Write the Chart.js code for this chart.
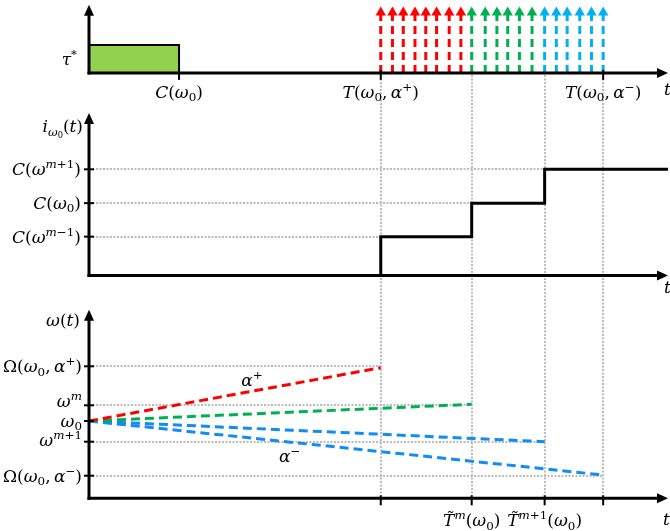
<!DOCTYPE html>
<html>
<head>
<meta charset="utf-8">
<script src="https://cdn.jsdelivr.net/npm/chart.js@4/dist/chart.umd.min.js"></script>
<style>
  html, body { margin: 0; padding: 0; background: #fff; }
  canvas { display: block; }
</style>
</head>
<body>
<canvas id="timing" width="670" height="531"></canvas>
<script>
// shared time axis
const tEnd = 6.43;
const tC0 = 1.0, tPlus = 3.24, tM = 4.25, tM1 = 5.06, tMinus = 5.71;
const guideTimes = [tPlus, tM, tM1, tMinus];

// top panel: sleep window and wake-up pulses
const tauStar = 1;
const pulseTop = 2.15;
const redPulses = [3.24, 3.37, 3.49, 3.62, 3.74, 3.86, 4.00, 4.13];
const greenPulses = [4.25, 4.40, 4.53, 4.65, 4.78, 4.92];
const bluePulses = [5.06, 5.19, 5.31, 5.45, 5.58, 5.71];
const topTickTimes = [tC0, tPlus, tMinus];
const topTickLabels = ['C(ω_{0})', 'T(ω_{0},\u2009α^{+})', 'T(ω_{0},\u2009α^{−})'];

// middle panel: i_w0(t) staircase
const midLevels = [1.16, 2.16, 3.17];
const midLabels = ['C(ω^{m−1})', 'C(ω_{0})', 'C(ω^{m+1})'];
const midGuideEnds = [tPlus, tM, tM1];
const stepTimes = [0, tPlus, tM, tM1, tEnd];
const stepValues = [0, 1.16, 2.16, 3.17, 3.17];

// bottom panel: w(t) ramps
const w0 = 7.73;
const botLevels = [13.2, 9.3, 7.73, 5.66, 2.26];
const botLabels = ['Ω(ω_{0},\u2009α^{+})', 'ω^{m}', 'ω_{0}', 'ω^{m+1}', 'Ω(ω_{0},\u2009α^{−})'];
const botGuideEnds = [tPlus, tM, null, tM1, tMinus];
const rampEnds = [tPlus, tM, tM1, tMinus];
const rampValues = [13.06, 9.4, 5.66, 2.33];
const botTickTimes = [tPlus, tM, tM1, tMinus];
const botTickLabels = ['', 'T\u0303^{m}(ω_{0})', 'T\u0303^{m+1}(ω_{0})', ''];
const alphaNotes = [
  { text: 'α^{+}', x: 1.81, y: 11.8 },
  { text: 'α^{−}', x: 2.23, y: 4.25 }
];

const RED = '#ff0000', GREEN = '#00b050', CYAN = '#00b0f0', BLUE = '#118cf5';
const GUIDE = '#bcbcbc';
const FONT = '"DejaVu Serif", serif';
const FS = 17;

function pulseData(times) {
  const out = [];
  times.forEach(t => {
    out.push({ x: t, y: 0 }, { x: t, y: pulseTop }, { x: t, y: null });
  });
  return out;
}

function pulseSet(times, color) {
  return {
    yAxisID: 'yTop',
    data: pulseData(times),
    borderColor: color,
    borderWidth: 3,
    borderDash: [8, 5],
    pointStyle: 'triangle',
    pointRadius: c => (c.raw && c.raw.y === pulseTop ? 6 : 0),
    pointBackgroundColor: color,
    pointBorderWidth: 0,
    spanGaps: false
  };
}

function rampSet(i, color) {
  return {
    yAxisID: 'yBot',
    data: [{ x: 0, y: w0 }, { x: rampEnds[i], y: rampValues[i] }],
    borderColor: color,
    borderWidth: 3,
    borderDash: [9, 5],
    pointRadius: 0
  };
}

// tiny renderer for labels with ^{..} and _{..}
function richRuns(str, size) {
  const runs = [];
  const st = [{ s: 1, d: 0 }];
  for (let i = 0; i < str.length; i++) {
    const c = str[i];
    const top = st[st.length - 1];
    if ((c === '^' || c === '_') && str[i + 1] === '{') {
      st.push(c === '^'
        ? { s: top.s * 0.7, d: top.d - top.s * size * 0.4 }
        : { s: top.s * 0.7, d: top.d + top.s * size * 0.2 });
      i++;
      continue;
    }
    if (c === '}') { st.pop(); continue; }
    if (/[\u0300-\u036f]/.test(c) && runs.length) { runs[runs.length - 1].t += c; continue; }
    runs.push({ t: c, s: top.s, d: top.d, it: /[A-Za-zα-ωτ]/.test(c) });
  }
  return runs;
}

function drawRich(ctx, str, x, y, align) {
  const runs = richRuns(str, FS);
  let w = 0;
  runs.forEach(r => {
    ctx.font = (r.it ? 'italic ' : '') + (FS * r.s).toFixed(1) + 'px ' + FONT;
    r.w = ctx.measureText(r.t).width;
    w += r.w;
  });
  let cx = align === 'right' ? x - w : align === 'center' ? x - w / 2 : x;
  ctx.textAlign = 'left';
  ctx.textBaseline = 'alphabetic';
  ctx.fillStyle = '#000';
  runs.forEach(r => {
    ctx.font = (r.it ? 'italic ' : '') + (FS * r.s).toFixed(1) + 'px ' + FONT;
    ctx.fillText(r.t, cx, y + FS * 0.35 + r.d);
    cx += r.w;
  });
}

function line(ctx, x1, y1, x2, y2) {
  ctx.beginPath();
  ctx.moveTo(x1, y1);
  ctx.lineTo(x2, y2);
  ctx.stroke();
}

function axes(ctx, x0, y0, yTip, xTip) {
  ctx.strokeStyle = '#000';
  ctx.fillStyle = '#000';
  ctx.lineWidth = 3;
  ctx.setLineDash([]);
  line(ctx, x0, y0 + 1.5, x0, yTip + 8);
  line(ctx, x0 - 1.5, y0, xTip - 8, y0);
  ctx.beginPath();
  ctx.moveTo(x0, yTip);
  ctx.lineTo(x0 - 5, yTip + 11);
  ctx.lineTo(x0 + 5, yTip + 11);
  ctx.closePath();
  ctx.fill();
  ctx.beginPath();
  ctx.moveTo(xTip, y0);
  ctx.lineTo(xTip - 11, y0 - 5);
  ctx.lineTo(xTip - 11, y0 + 5);
  ctx.closePath();
  ctx.fill();
}

const sketch = {
  id: 'sketch',
  beforeDatasetsDraw(chart) {
    const { ctx, scales: { x, yTop, yMid, yBot } } = chart;
    const px = v => Math.round(x.getPixelForValue(v));
    ctx.save();
    ctx.strokeStyle = GUIDE;
    ctx.lineWidth = 2;
    ctx.setLineDash([2, 1.5]);
    guideTimes.forEach(t => {
      line(ctx, px(t), yTop.getPixelForValue(0) + 2, px(t), yBot.getPixelForValue(0));
    });
    midLevels.forEach((v, i) => {
      const py = Math.round(yMid.getPixelForValue(v));
      line(ctx, px(0), py, px(midGuideEnds[i]), py);
    });
    botLevels.forEach((v, i) => {
      if (botGuideEnds[i] === null) return;
      const py = Math.round(yBot.getPixelForValue(v));
      line(ctx, px(0), py, px(botGuideEnds[i]), py);
    });
    ctx.restore();
  },
  afterDatasetsDraw(chart) {
    const { ctx, scales: { x, yTop, yMid, yBot } } = chart;
    const x0 = x.getPixelForValue(0);
    const xTip = x.getPixelForValue(tEnd);
    ctx.save();

    // top panel
    const yt0 = yTop.getPixelForValue(0);
    axes(ctx, x0, yt0, yTop.getPixelForValue(2.43), xTip);
    ctx.lineWidth = 2;
    topTickTimes.forEach((t, i) => {
      const p = x.getPixelForValue(t);
      line(ctx, p, yt0 - 3, p, yt0 + 7);
      drawRich(ctx, topTickLabels[i], p, yt0 + 19, 'center');
    });
    drawRich(ctx, 'τ^{*}', x0 - 12, yTop.getPixelForValue(tauStar / 2), 'right');
    drawRich(ctx, 't', xTip - 4, yt0 + 16, 'left');

    // middle panel
    const ym0 = yMid.getPixelForValue(0);
    axes(ctx, x0, ym0, yMid.getPixelForValue(4.85), xTip);
    ctx.lineWidth = 2;
    midLevels.forEach((v, i) => {
      const py = yMid.getPixelForValue(v);
      line(ctx, x0 - 5, py, x0 + 5, py);
      drawRich(ctx, midLabels[i], x0 - 8, py, 'right');
    });
    drawRich(ctx, 'i_{ω_{0}}(t)', x0 - 6, yMid.getPixelForValue(4.45), 'right');
    drawRich(ctx, 't', xTip - 4, ym0 + 12, 'left');

    // bottom panel
    const yb0 = yBot.getPixelForValue(0);
    axes(ctx, x0, yb0, yBot.getPixelForValue(18.85), xTip);
    ctx.lineWidth = 2;
    const labelNudge = [0, -4, 0, -2, 0];
    botLevels.forEach((v, i) => {
      const py = yBot.getPixelForValue(v);
      line(ctx, x0 - 5, py, x0 + 5, py);
      drawRich(ctx, botLabels[i], x0 - 7, py + labelNudge[i], 'right');
    });
    botTickTimes.forEach((t, i) => {
      const p = x.getPixelForValue(t);
      line(ctx, p, yb0 - 3, p, yb0 + 7);
      if (botTickLabels[i]) drawRich(ctx, botTickLabels[i], p, yb0 + 22, 'center');
    });
    drawRich(ctx, 'ω(t)', x0 - 9, yBot.getPixelForValue(17.8), 'right');
    drawRich(ctx, 't', xTip - 5, yb0 + 21, 'left');
    alphaNotes.forEach(n => {
      drawRich(ctx, n.text, x.getPixelForValue(n.x), yBot.getPixelForValue(n.y), 'center');
    });
    ctx.restore();
  }
};

new Chart(document.getElementById('timing'), {
  type: 'line',
  data: {
    datasets: [
      {
        yAxisID: 'yTop',
        data: [{ x: 0, y: 0 }, { x: 0, y: tauStar }, { x: tC0, y: tauStar }, { x: tC0, y: 0 }],
        borderColor: '#000',
        borderWidth: 2,
        backgroundColor: '#92d050',
        fill: 'origin',
        pointRadius: 0
      },
      pulseSet(redPulses, RED),
      pulseSet(greenPulses, GREEN),
      pulseSet(bluePulses, CYAN),
      {
        yAxisID: 'yMid',
        data: stepTimes.map((t, i) => ({ x: t, y: stepValues[i] })),
        borderColor: '#000',
        borderWidth: 3,
        stepped: 'before',
        pointRadius: 0
      },
      rampSet(0, RED),
      rampSet(1, GREEN),
      rampSet(2, BLUE),
      rampSet(3, BLUE)
    ]
  },
  options: {
    responsive: false,
    devicePixelRatio: 1,
    animation: false,
    events: [],
    datasets: { line: { clip: false, tension: 0 } },
    layout: { padding: { left: 89, right: 2, top: 0, bottom: 0 } },
    plugins: { legend: { display: false }, tooltip: { enabled: false } },
    scales: {
      x: { type: 'linear', min: 0, max: tEnd, display: false },
      yTop: { type: 'linear', position: 'left', stack: 'panels', stackWeight: 92, weight: 3, min: -0.68, max: 2.6, display: false },
      yMid: { type: 'linear', position: 'left', stack: 'panels', stackWeight: 200, weight: 2, min: -0.4925, max: 5.478, display: false },
      yBot: { type: 'linear', position: 'left', stack: 'panels', stackWeight: 239, weight: 1, min: -3.27, max: 20.63, display: false }
    }
  },
  plugins: [sketch]
});
</script>
</body>
</html>
